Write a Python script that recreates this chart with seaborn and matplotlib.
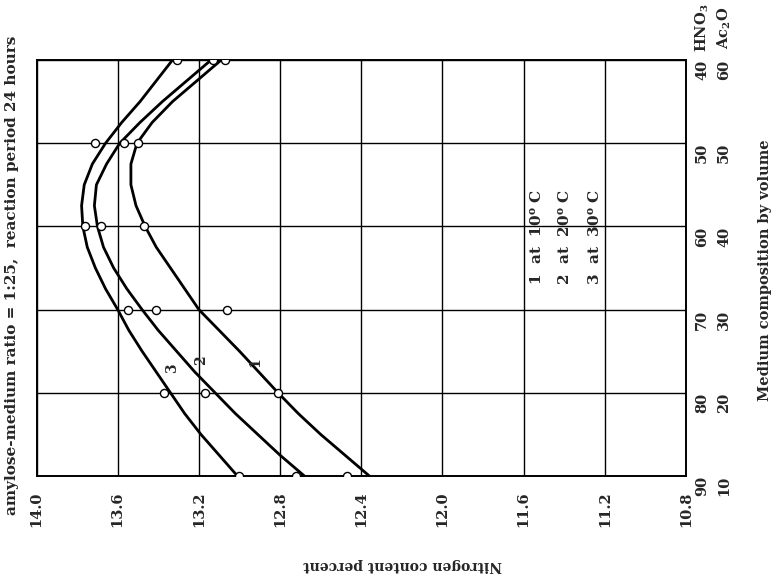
import numpy as np
import pandas as pd
import matplotlib
matplotlib.use("Agg")
import matplotlib.pyplot as plt
import seaborn as sns
from matplotlib import transforms

# ---------------- data ----------------
hno3_points = [90, 80, 70, 60, 50, 40]
ac2o_labels = [10, 20, 30, 40, 50, 60]
points_10C = [12.47, 12.81, 13.06, 13.47, 13.50, 13.07]
points_20C = [12.72, 13.17, 13.41, 13.68, 13.57, 13.13]
points_30C = [13.00, 13.37, 13.55, 13.76, 13.71, 13.31]

curve_hno3 = [90, 87.5, 85, 82.5, 80, 77.5, 75, 72.5, 70, 67.5, 65, 62.5, 60,
              57.5, 55, 52.5, 50, 47.5, 45, 42.5, 40]
curve_10C = [12.36, 12.48, 12.60, 12.71, 12.81, 12.905, 13.00, 13.10, 13.20, 13.27,
             13.34, 13.41, 13.465, 13.51, 13.535, 13.535, 13.505, 13.43, 13.33, 13.21, 13.09]
curve_20C = [12.68, 12.80, 12.91, 13.02, 13.12, 13.22, 13.31, 13.40, 13.48, 13.555,
             13.62, 13.67, 13.70, 13.715, 13.705, 13.655, 13.59, 13.49, 13.38, 13.26, 13.14]
curve_30C = [13.01, 13.10, 13.19, 13.27, 13.34, 13.41, 13.48, 13.545, 13.60, 13.66,
             13.71, 13.75, 13.772, 13.778, 13.765, 13.725, 13.66, 13.58, 13.49, 13.41, 13.33]

nitrogen_ticks = [14.0, 13.6, 13.2, 12.8, 12.4, 12.0, 11.6, 11.2, 10.8]
curve_names = ["1", "2", "3"]
legend_lines = ["1  at  10$^{\\mathbf{o}}$ C", "2  at  20$^{\\mathbf{o}}$ C", "3  at  30$^{\\mathbf{o}}$ C"]

title = "amylose-medium ratio = 1:25,  reaction period 24 hours"
n_label = "Nitrogen content percent"
comp_label = "Medium composition by volume"

# ---------------- tables ----------------
curves = pd.concat([
    pd.DataFrame({"hno3": curve_hno3, "N": curve_10C, "curve": "1"}),
    pd.DataFrame({"hno3": curve_hno3, "N": curve_20C, "curve": "2"}),
    pd.DataFrame({"hno3": curve_hno3, "N": curve_30C, "curve": "3"}),
])
points = pd.concat([
    pd.DataFrame({"hno3": hno3_points, "N": points_10C, "curve": "1"}),
    pd.DataFrame({"hno3": hno3_points, "N": points_20C, "curve": "2"}),
    pd.DataFrame({"hno3": hno3_points, "N": points_30C, "curve": "3"}),
])

# ---------------- style ----------------
sns.set_theme(style="white")
plt.rcParams["font.family"] = ["DejaVu Serif"]
plt.rcParams["font.weight"] = "bold"
plt.rcParams["mathtext.fontset"] = "dejavuserif"

fig = plt.figure(figsize=(7.79, 5.87), dpi=100)
ax = fig.add_axes([0.0469, 0.1891, 0.8337, 0.7087])

sns.lineplot(data=curves, x="N", y="hno3", units="curve", estimator=None,
             sort=False, color="black", linewidth=2.0, ax=ax, legend=False)
for line in ax.lines:
    line.set_solid_joinstyle("round")
sns.scatterplot(data=points, x="N", y="hno3", ax=ax, s=34, facecolor="white",
                edgecolor="black", linewidth=1.0, zorder=5, legend=False)

ax.set_xlim(14.0, 10.8)
ax.set_ylim(90, 40)
ax.set_xticks(nitrogen_ticks)
ax.set_yticks(hno3_points)
ax.grid(True, color="black", linewidth=1.0)
ax.set_axisbelow(True)
for sp in ax.spines.values():
    sp.set_color("black")
    sp.set_linewidth(1.4)

ax.set_xticklabels([f"{v:.1f}" for v in nitrogen_ticks], rotation=90,
                   fontsize=10.5, fontweight="bold")
ax.tick_params(axis="x", length=0, pad=11)
ax.tick_params(axis="y", length=0, labelleft=False)
ax.set_xlabel("")
ax.set_ylabel("")

# right-hand composition labels
trans = transforms.blended_transform_factory(fig.transFigure, ax.transData)
for h, a in zip(hno3_points, ac2o_labels):
    ax.text(702 / 779, h, str(h), transform=trans, rotation=90, ha="center",
            va="top", fontsize=10.5, fontweight="bold")
    ax.text(724 / 779, h, str(a), transform=trans, rotation=90, ha="center",
            va="top", fontsize=10.5, fontweight="bold")
fig.text(702 / 779, 1 - 28 / 587, "HNO$_{\\mathbf{3}}$", rotation=90, ha="center",
         va="center", fontsize=10.5, fontweight="bold")
fig.text(724 / 779, 1 - 28 / 587, "Ac$_{\\mathbf{2}}$O", rotation=90, ha="center",
         va="center", fontsize=10.5, fontweight="bold")
fig.text(765 / 779, 1 - 270 / 587, comp_label, rotation=90, ha="center",
         va="center", fontsize=10.5, fontweight="bold")

# title and nitrogen label
fig.text(12 / 779, 1 - 515 / 587, title, rotation=90, ha="center", va="bottom",
         fontsize=11, fontweight="bold")
fig.text(403 / 779, 1 - 565 / 587, n_label, rotation=180, ha="center",
         va="center", fontsize=10, fontweight="bold")

# curve numbers
for name, (xn, yh) in zip(curve_names, [(12.92, 76.3), (13.19, 76.1), (13.33, 77.1)]):
    ax.text(xn, yh, name, rotation=90, ha="center", va="center",
            fontsize=10, fontweight="bold")

# temperature key
for txt, xn in zip(legend_lines, [11.535, 11.40, 11.25]):
    ax.text(xn, 67.0, txt, rotation=90, ha="center", va="bottom",
            fontsize=11, fontweight="bold")

fig.savefig("out.png", dpi=100)
